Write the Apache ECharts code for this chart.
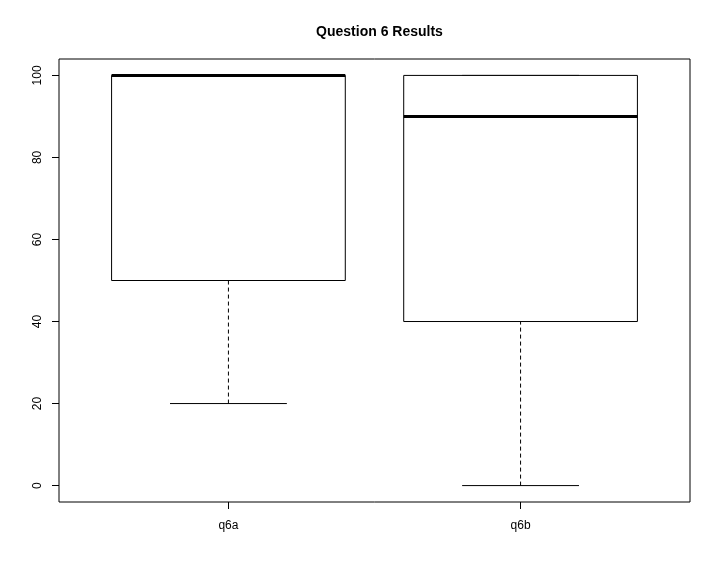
<!DOCTYPE html>
<html>
<head>
<meta charset="UTF-8" />
<title>Question 6 Results</title>
<script src="https://cdn.jsdelivr.net/npm/echarts@6/dist/echarts.min.js"></script>
<style>
html, body { margin: 0; padding: 0; background: #fff; }
</style>
</head>
<body>
<div id="chart" style="width: 720px; height: 576px;"></div>
<script>
// box statistics
var categories = ["q6a", "q6b"];
var lowerWhisker = [20, 0];
var q1 = [50, 40];
var median = [100, 90];
var q3 = [100, 100];
var upperWhisker = [100, 100];
var yTicks = [0, 20, 40, 60, 80, 100];

var boxData = categories.map(function (c, i) {
  return [i + 1, lowerWhisker[i], q1[i], median[i], q3[i], upperWhisker[i]];
});

var chart = echarts.init(document.getElementById("chart"));

function line(x1, y1, x2, y2, style) {
  return {
    type: "line",
    shape: { x1: x1, y1: y1, x2: x2, y2: y2 },
    style: Object.assign({ stroke: "#000", lineWidth: 1, fill: null }, style || {})
  };
}

function renderBox(params, api) {
  var x = api.value(0);
  var pMin = api.coord([x, api.value(1)]);
  var pQ1 = api.coord([x, api.value(2)]);
  var pMed = api.coord([x, api.value(3)]);
  var pQ3 = api.coord([x, api.value(4)]);
  var pMax = api.coord([x, api.value(5)]);
  var boxW = api.size([0.8, 0])[0];
  var capW = api.size([0.4, 0])[0];
  var cx = pMed[0];
  return {
    type: "group",
    children: [
      line(cx, pMin[1], cx, pQ1[1], { lineDash: [4, 3] }),
      line(cx, pQ3[1], cx, pMax[1], { lineDash: [4, 3] }),
      line(cx - capW / 2, pMin[1], cx + capW / 2, pMin[1]),
      line(cx - capW / 2, pMax[1], cx + capW / 2, pMax[1]),
      {
        type: "rect",
        shape: { x: cx - boxW / 2, y: pQ3[1], width: boxW, height: pQ1[1] - pQ3[1] },
        style: { fill: "#fff", stroke: "#000", lineWidth: 1 }
      },
      line(cx - boxW / 2, pMed[1], cx + boxW / 2, pMed[1], { lineWidth: 3 })
    ]
  };
}

var option = {
  animation: false,
  title: {
    text: "Question 6 Results",
    left: 374.5,
    textAlign: "center",
    top: 20,
    textStyle: { fontFamily: "Liberation Sans", fontSize: 14, fontWeight: "bold", color: "#000" }
  },
  grid: {
    left: 59, right: 30, top: 59, bottom: 74,
    show: true, borderColor: "#000", borderWidth: 1, backgroundColor: "transparent"
  },
  xAxis: {
    type: "value",
    min: 0.42,
    max: 2.58,
    splitLine: { show: false },
    axisLine: { show: false, onZero: false },
    axisTick: { show: true, length: 7, lineStyle: { color: "#000" }, customValues: [1, 2] },
    axisLabel: {
      customValues: [1, 2],
      margin: 18,
      color: "#000",
      fontFamily: "Liberation Sans",
      fontSize: 12,
      formatter: function (v) { return categories[Math.round(v) - 1]; }
    }
  },
  yAxis: {
    type: "value",
    min: -4,
    max: 104,
    splitLine: { show: false },
    axisLine: { show: false, onZero: false },
    axisTick: { show: true, length: 7, lineStyle: { color: "#000" }, customValues: yTicks },
    axisLabel: {
      customValues: yTicks,
      rotate: 90,
      margin: 15,
      color: "#000",
      fontFamily: "Liberation Sans",
      fontSize: 12
    }
  },
  series: [
    {
      type: "custom",
      renderItem: renderBox,
      data: boxData,
      encode: { x: 0, y: [1, 2, 3, 4, 5] }
    }
  ]
};

chart.setOption(option);
</script>
</body>
</html>
